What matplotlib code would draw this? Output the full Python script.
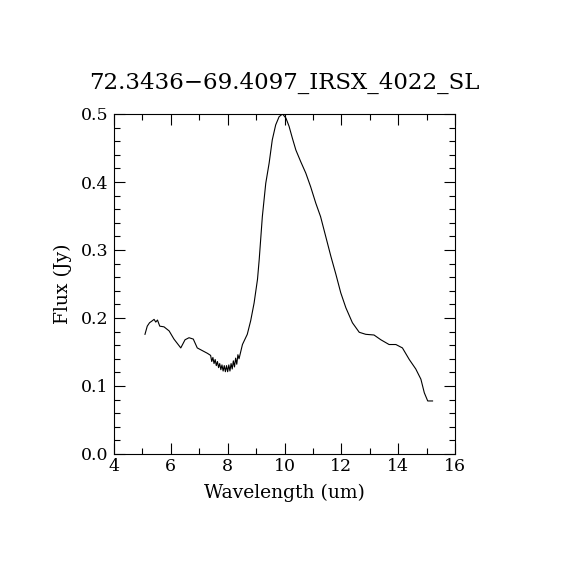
import matplotlib
matplotlib.use("Agg")
import matplotlib.pyplot as plt
from matplotlib.ticker import MultipleLocator

title = "72.3436\u221269.4097_IRSX_4022_SL"
wavelength = [5.09, 5.17, 5.25, 5.35, 5.41, 5.47, 5.53, 5.61, 5.76, 5.94, 6.11, 6.35,
              6.50, 6.64, 6.79, 6.93, 7.11, 7.29, 7.40, 7.44, 7.48, 7.52, 7.56, 7.60,
              7.64, 7.68, 7.72, 7.76, 7.80, 7.84, 7.88, 7.92, 7.96, 8.00, 8.04, 8.08,
              8.12, 8.16, 8.20, 8.24, 8.28, 8.32, 8.36, 8.40, 8.52, 8.69, 8.81, 8.93,
              9.05, 9.11, 9.22, 9.34, 9.46, 9.57, 9.69, 9.81, 9.93, 10.05, 10.16, 10.28,
              10.40, 10.57, 10.75, 10.92, 11.10, 11.27, 11.45, 11.63, 11.81, 11.98, 12.16,
              12.39, 12.63, 12.86, 13.15, 13.39, 13.68, 13.92, 14.15, 14.39, 14.62, 14.80,
              14.92, 15.04, 15.21]
flux = [0.176, 0.188, 0.193, 0.196, 0.198, 0.194, 0.197, 0.188, 0.187, 0.181, 0.169, 0.156,
        0.168, 0.171, 0.169, 0.156, 0.152, 0.148, 0.145, 0.136, 0.142, 0.133, 0.139, 0.130,
        0.136, 0.127, 0.133, 0.124, 0.131, 0.122, 0.130, 0.121, 0.130, 0.121, 0.131, 0.122,
        0.133, 0.125, 0.137, 0.128, 0.141, 0.132, 0.146, 0.140, 0.161, 0.176, 0.196, 0.222,
        0.257, 0.286, 0.349, 0.398, 0.428, 0.462, 0.484, 0.496, 0.500, 0.494, 0.482, 0.464,
        0.447, 0.430, 0.413, 0.393, 0.369, 0.349, 0.320, 0.291, 0.264, 0.237, 0.215,
        0.193, 0.179, 0.176, 0.175, 0.168, 0.161, 0.161, 0.156, 0.139, 0.125, 0.110,
        0.090, 0.078, 0.078]

plt.rcParams['font.family'] = ['DejaVu Serif']
fig = plt.figure(figsize=(5.7, 5.7), dpi=100)
ax = fig.add_axes([114/570, 1-454/570, (455-114)/570, (454-114)/570])
ax.plot(wavelength, flux, color='black', lw=0.8)
ax.set_xlim(4, 16)
ax.set_ylim(0, 0.5)
ax.xaxis.set_major_locator(MultipleLocator(2))
ax.xaxis.set_minor_locator(MultipleLocator(1))
ax.yaxis.set_major_locator(MultipleLocator(0.1))
ax.yaxis.set_minor_locator(MultipleLocator(0.02))
ax.yaxis.set_major_formatter(matplotlib.ticker.FormatStrFormatter('%.1f'))
ax.tick_params(which='both', direction='in', top=True, right=True, labelsize=12.5, width=0.8)
ax.tick_params(which='major', length=8)
ax.tick_params(which='minor', length=4)
ax.tick_params(axis='y', pad=4)
ax.tick_params(axis='x', pad=3)
for s in ax.spines.values():
    s.set_linewidth(0.8)
ax.set_xlabel("Wavelength (um)", fontsize=13.5, labelpad=6)
ax.set_ylabel("Flux (Jy)", fontsize=13.5, labelpad=6)
fig.text(284/570, 1-83/570, title, ha='center', va='center', fontsize=16.5)
fig.savefig("out.png", dpi=100)
